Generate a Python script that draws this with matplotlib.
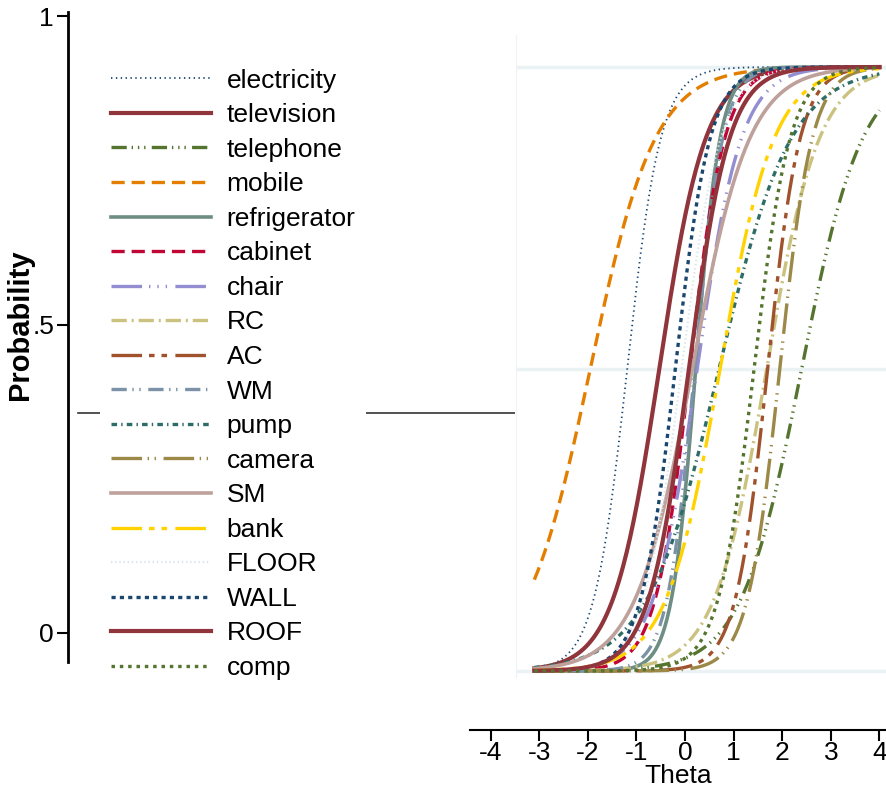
import numpy as np
import matplotlib
matplotlib.use('Agg')
import matplotlib.pyplot as plt

plt.rcParams['font.family'] = ['Liberation Sans', 'DejaVu Sans']
plt.rcParams['lines.scale_dashes'] = False

W, H = 887, 792  # tamaño en pixeles

# Items del modelo 2PL (discriminacion a, dificultad b)
items = ['electricity', 'television', 'telephone', 'mobile', 'refrigerator',
         'cabinet', 'chair', 'RC', 'AC', 'WM', 'pump', 'camera', 'SM', 'bank',
         'FLOOR', 'WALL', 'ROOF', 'comp']
discrim = [2.9, 2.1, 1.6, 1.5, 4.0, 2.8, 2.2, 1.85, 3.0, 3.5, 1.35, 3.0,
           1.7, 1.8, 2.5, 2.8, 2.4, 2.7]
difficulty = [-1.19, -0.53, 2.4, -1.95, 0.22, 0.1, 0.25, 1.68, 1.7, 0.2,
              0.7, 1.95, 0.15, 0.72, -0.07, -0.2, 0.08, 1.42]
theta_min, theta_max = -3.1, 4.0

x_ticks = [-4, -3, -2, -1, 0, 1, 2, 3, 4]
y_ticks = [0, 0.5, 1]
y_ticklabels = ['0', '.5', '1']
ref_value = 0.3566  # linea suelta del panel izquierdo

# colores s2color y patrones de linea
colors = ['#1a476f', '#90353b', '#55752f', '#e37e00', '#6e8e84', '#c10534',
          '#938dd2', '#cac27e', '#a0522d', '#7b92a8', '#2d6d66', '#9c8847',
          '#bfa19c', '#ffd200', '#d9e6eb', '#1a476f', '#90353b', '#55752f']
dashes = [(0, (1, 2.5)), '-', (0, (11, 3.5, 1, 3.5, 1, 3.5, 1, 4.5)), (0, (9.5, 5)),
          '-', (0, (9.5, 5)), (0, (22, 5, 1, 5, 1, 5, 1, 6)), (0, (11, 3.5, 1.5, 3.5)),
          (0, (22, 5, 4, 5, 4, 6)), (0, (11, 4, 1, 4, 1, 5.5)), (0, (4, 3, 1, 3)),
          (0, (22, 4, 1, 4, 1, 5.5)), '-', (0, (22, 5, 4, 5, 4, 6)), (0, (1, 2)),
          (0, (3, 3)), '-', (0, (2.5, 3.5))]
widths = [1.3, 3.0, 2.4, 2.4, 2.6, 2.4, 2.4, 2.4, 2.4, 2.4, 2.4, 2.4, 2.6,
          2.4, 1.6, 2.4, 3.0, 2.4]


def rect(x0, y0, x1, y1):
    # pixeles (arriba-izquierda) -> fraccion de figura
    return [x0 / W, 1 - y1 / H, (x1 - x0) / W, (y1 - y0) / H]


fig = plt.figure(figsize=(W / 100, H / 100), dpi=100)

# Panel izquierdo: eje Probability
ax_l = fig.add_axes(rect(68, 12, 515, 662))
ax_l.set_xlim(0, 1)
ax_l.set_ylim((633 - 662) / 617, (633 - 12) / 617)
for s in ['top', 'right', 'bottom']:
    ax_l.spines[s].set_visible(False)
ax_l.spines['left'].set_linewidth(2)
ax_l.set_xticks([])
ax_l.set_yticks(y_ticks)
ax_l.set_yticklabels(y_ticklabels, fontsize=19)
ax_l.tick_params(axis='y', length=8, width=1.5, pad=2)
ax_l.axhline(ref_value, xmin=10 / 447, xmax=1, color='#333333', lw=1.2)
fig.text(20 / W, 1 - 325 / H, 'Probability', rotation=90, fontsize=21,
         fontweight='bold', ha='center', va='center')

# Panel de curvas
ax_c = fig.add_axes(rect(516, 35, 887, 677))
ax_c.set_xlim((516 - 685) / 48.6, (887 - 685) / 48.6)
ax_c.set_ylim((671 - 677) / 604, 1 + (671 - 67 - 604 + 32) / 604)
for s in ['top', 'right', 'bottom']:
    ax_c.spines[s].set_visible(False)
ax_c.spines['left'].set_color('#eef3f5')
ax_c.set_xticks([])
ax_c.set_yticks([])
for v in y_ticks:
    ax_c.axhline(v, color='#eaf2f3', lw=2.5, zorder=0)

theta = np.linspace(theta_min, theta_max, 300)
handles = []
for i in range(len(items)):
    p = 1 / (1 + np.exp(-discrim[i] * (theta - difficulty[i])))
    ln, = ax_c.plot(theta, p, color=colors[i], linestyle=dashes[i],
                    lw=widths[i], label=items[i])
    handles.append(ln)

# Eje Theta separado
ax_x = fig.add_axes(rect(470, 700, 887, 730))
ax_x.set_xlim((470 - 685) / 48.6, (887 - 685) / 48.6)
for s in ['top', 'right', 'left']:
    ax_x.spines[s].set_visible(False)
ax_x.spines['bottom'].set_linewidth(1.5)
ax_x.patch.set_visible(False)
ax_x.set_yticks([])
ax_x.set_xticks(x_ticks)
ax_x.set_xticklabels([str(t) for t in x_ticks], fontsize=19)
ax_x.tick_params(axis='x', length=8, width=1.5, pad=0)
ax_x.set_xlabel('Theta', fontsize=19, labelpad=-1)

# Leyenda
leg = fig.legend(handles, items, loc='upper left',
                 bbox_to_anchor=(100 / W, 1 - 58 / H), fontsize=19,
                 frameon=True, facecolor='white', edgecolor='none',
                 framealpha=1, fancybox=False, handlelength=3.8,
                 handletextpad=0.6, labelspacing=0.40, borderpad=0.4,
                 borderaxespad=0)

fig.savefig('out.png', dpi=100)
